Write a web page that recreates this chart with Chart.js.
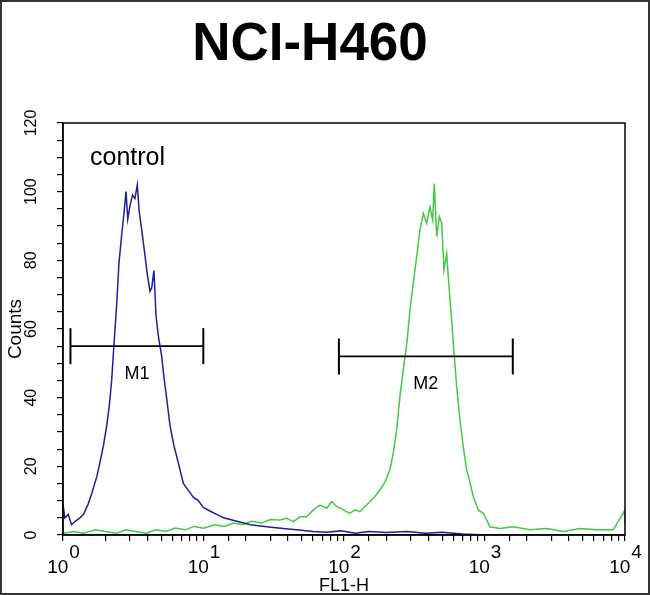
<!DOCTYPE html>
<html>
<head>
<meta charset="utf-8">
<title>NCI-H460</title>
<script src="https://cdn.jsdelivr.net/npm/chart.js@4/dist/chart.umd.min.js"></script>
<style>
  body { margin: 0; background: #fff; }
  canvas { display: block; }
</style>
</head>
<body>
<canvas id="GraficoFacs" width="650" height="595"></canvas>
<script>
// data (FL1-H value, counts)
var blueFL = [1.00, 1.03, 1.09, 1.15, 1.22, 1.32, 1.40, 1.51, 1.60, 1.74, 1.83, 1.94, 2.05, 2.14, 2.22, 2.31, 2.41, 2.50, 2.61, 2.72, 2.81, 2.89, 3.00, 3.13, 3.25, 3.38, 3.49, 3.63, 3.79, 3.98, 4.16, 4.28, 4.44, 4.59, 4.77, 5.04, 5.23, 5.46, 5.77, 6.16, 6.62, 7.19, 7.80, 8.46, 9.18, 9.97, 11.1, 12.4, 13.9, 17.3, 21.6, 28.2, 36.9, 46.0, 60, 75, 95, 120, 150, 200, 280, 380, 500, 700, 1000, 2000, 5000, 10000];
var blueCounts = [9, 5, 6, 3, 4, 5, 6, 9, 12, 17, 21, 26, 32, 38, 45, 56, 67, 79, 87, 94, 100, 92, 96, 99, 98, 102, 94, 89, 83, 76, 71, 72, 77, 64, 58, 52, 46, 40, 32, 26, 21, 15, 13, 11, 10, 8, 7, 6, 5, 4, 3, 2.4, 1.9, 1.5, 1, 0.8, 1.2, 0.5, 1, 0.7, 1, 0.5, 0.8, 0.3, 0, 0, 0, 0];

var greenFL = [1.0, 1.2, 1.4, 1.7, 2.0, 2.4, 2.8, 3.3, 3.9, 4.6, 5.4, 6.3, 7.4, 8.6, 10, 12, 14, 16.5, 19, 22, 26, 30, 35, 39.1, 43.6, 48.6, 54.3, 60.5, 67.5, 75.3, 81.7, 88.7, 98.9, 110, 120, 130, 141, 153, 166, 180, 196, 212, 224, 237, 250, 264, 280, 295, 311, 329, 347, 367, 388, 409, 428, 439, 457, 477, 496, 515, 538, 559, 584, 607, 634, 669, 706, 747, 780, 832, 904, 981, 1094, 1289, 1603, 2108, 2772, 3638, 4783, 6289, 8256, 9900, 10000];
var greenCounts = [0.5, 1, 0.5, 1.5, 1, 0.5, 1.5, 1, 0.5, 1.5, 1, 2, 1.5, 2.5, 2, 3, 2.5, 3.5, 3, 4, 3.5, 4.5, 4.4, 4.9, 3.9, 5.3, 5.3, 7.3, 8.7, 7.8, 9.7, 8.3, 7.3, 6.3, 7.3, 6.8, 8.3, 9.7, 11.2, 13.1, 15.5, 18.9, 23.8, 30.6, 40.3, 48, 55.8, 65.5, 73.3, 81, 88.8, 93.7, 90.8, 95.6, 91.7, 102.4, 86.9, 92.7, 90.8, 77.2, 82, 72.3, 62.6, 52.9, 43.2, 33.5, 25.7, 18.9, 16, 11.2, 7.3, 6.3, 2.4, 1.9, 2.4, 1.5, 1.9, 1, 1.9, 1.5, 1.5, 7, 3];

// markers: name, start, end, level
var markerNames = ["M1", "M2"];
var markerStart = [1.13, 92];
var markerEnd = [9.97, 1590];
var markerLevel = [55, 52];

var yTickLabels = [0, 20, 40, 60, 80, 100, 120];
var xDecades = [1, 10, 100, 1000, 10000];
var xExponents = ["0", "1", "2", "3", "4"];

var FONTE = '"Liberation Sans", Arial, sans-serif';

function PegarPontos(xs, ys) {
    return xs.map(function (v, i) { return { x: v, y: ys[i] }; });
}

var extras = {
    id: 'extras',
    afterDraw: function (chart) {
        var ctx = chart.ctx;
        var a = chart.chartArea;
        var xs = chart.scales.x;
        var ys = chart.scales.y;
        ctx.save();

        // plot frame and image border
        ctx.strokeStyle = '#000';
        ctx.lineWidth = 1.5;
        ctx.strokeRect(a.left, a.top, a.right - a.left, a.bottom - a.top);
        ctx.strokeStyle = '#333';
        ctx.lineWidth = 2;
        ctx.strokeRect(1, 1, 648, 593);

        ctx.fillStyle = '#000';

        // title
        ctx.font = 'bold 53px ' + FONTE;
        ctx.textAlign = 'center';
        ctx.textBaseline = 'alphabetic';
        ctx.fillText('NCI-H460', 310, 60);

        // control label
        ctx.font = '25px ' + FONTE;
        ctx.textAlign = 'left';
        ctx.fillText('control', 90, 165);

        // y tick labels, rotated
        ctx.font = '16px ' + FONTE;
        yTickLabels.forEach(function (v) {
            var y = ys.getPixelForValue(v);
            ctx.save();
            ctx.translate(32, y);
            ctx.rotate(-Math.PI / 2);
            ctx.textAlign = 'center';
            ctx.textBaseline = 'middle';
            ctx.fillText(String(v), 0, 0);
            ctx.restore();
        });

        // x tick labels 10^n
        ctx.font = '19px ' + FONTE;
        ctx.textAlign = 'left';
        ctx.textBaseline = 'alphabetic';
        xDecades.forEach(function (v, i) {
            var x = xs.getPixelForValue(v);
            var w10 = ctx.measureText('10').width;
            var we = ctx.measureText(xExponents[i]).width;
            var start = x - (w10 + we) / 2;
            ctx.fillText('10', start, 573);
            ctx.fillText(xExponents[i], start + w10 + 1, 558);
        });

        // marker names
        ctx.font = '18px ' + FONTE;
        ctx.textAlign = 'center';
        ctx.textBaseline = 'middle';
        markerNames.forEach(function (n, i) {
            var mid = Math.sqrt(markerStart[i] * markerEnd[i]);
            var x = xs.getPixelForValue(mid);
            var y = ys.getPixelForValue(markerLevel[i]) + 28;
            ctx.fillText(n, x, y);
        });

        ctx.restore();
    }
};

var marcadores = markerNames.map(function (n, i) {
    return {
        label: n,
        data: [{ x: markerStart[i], y: markerLevel[i] }, { x: markerEnd[i], y: markerLevel[i] }],
        borderColor: '#000',
        borderWidth: 1.8,
        pointStyle: 'line',
        rotation: 90,
        pointRadius: 18,
        pointBorderColor: '#000',
        pointBorderWidth: 2
    };
});

var ctx = document.getElementById('GraficoFacs').getContext('2d');
var grafico = new Chart(ctx, {
    type: 'line',
    data: {
        datasets: marcadores.concat([
            {
                label: "control",
                data: PegarPontos(blueFL, blueCounts),
                borderColor: '#1f1f96',
                borderWidth: 1.5,
                pointRadius: 0,
                tension: 0
            },
            {
                label: "NCI-H460",
                data: PegarPontos(greenFL, greenCounts),
                borderColor: '#45c845',
                borderWidth: 1.5,
                pointRadius: 0,
                tension: 0
            }
        ])
    },
    options: {
        responsive: false,
        animation: false,
        layout: { padding: { top: 123, right: 25, left: 0, bottom: 0 } },
        plugins: {
            legend: { display: false },
            title: { display: false },
            tooltip: { enabled: false }
        },
        scales: {
            x: {
                type: 'logarithmic',
                min: 1,
                max: 10000,
                afterFit: function (s) { s.height = 60; },
                ticks: { display: false },
                grid: { drawOnChartArea: false, drawTicks: true, tickLength: 6, color: '#000', lineWidth: 1.2 },
                border: { display: true, color: '#000', width: 1.5 },
                title: {
                    display: true,
                    text: 'FL1-H',
                    font: { family: FONTE, size: 18 },
                    color: '#000',
                    padding: { top: 0, bottom: -2 }
                }
            },
            y: {
                min: 0,
                max: 120,
                afterFit: function (s) { s.width = 63; },
                ticks: { display: false, stepSize: 5, autoSkip: false },
                grid: { drawOnChartArea: false, drawTicks: true, tickLength: 6, color: '#000', lineWidth: 1.2 },
                border: { display: true, color: '#000', width: 1.5 },
                title: {
                    display: true,
                    text: 'Counts',
                    font: { family: FONTE, size: 19 },
                    color: '#000',
                    padding: { top: 4, bottom: 0 }
                }
            }
        }
    },
    plugins: [extras]
});
</script>
</body>
</html>
